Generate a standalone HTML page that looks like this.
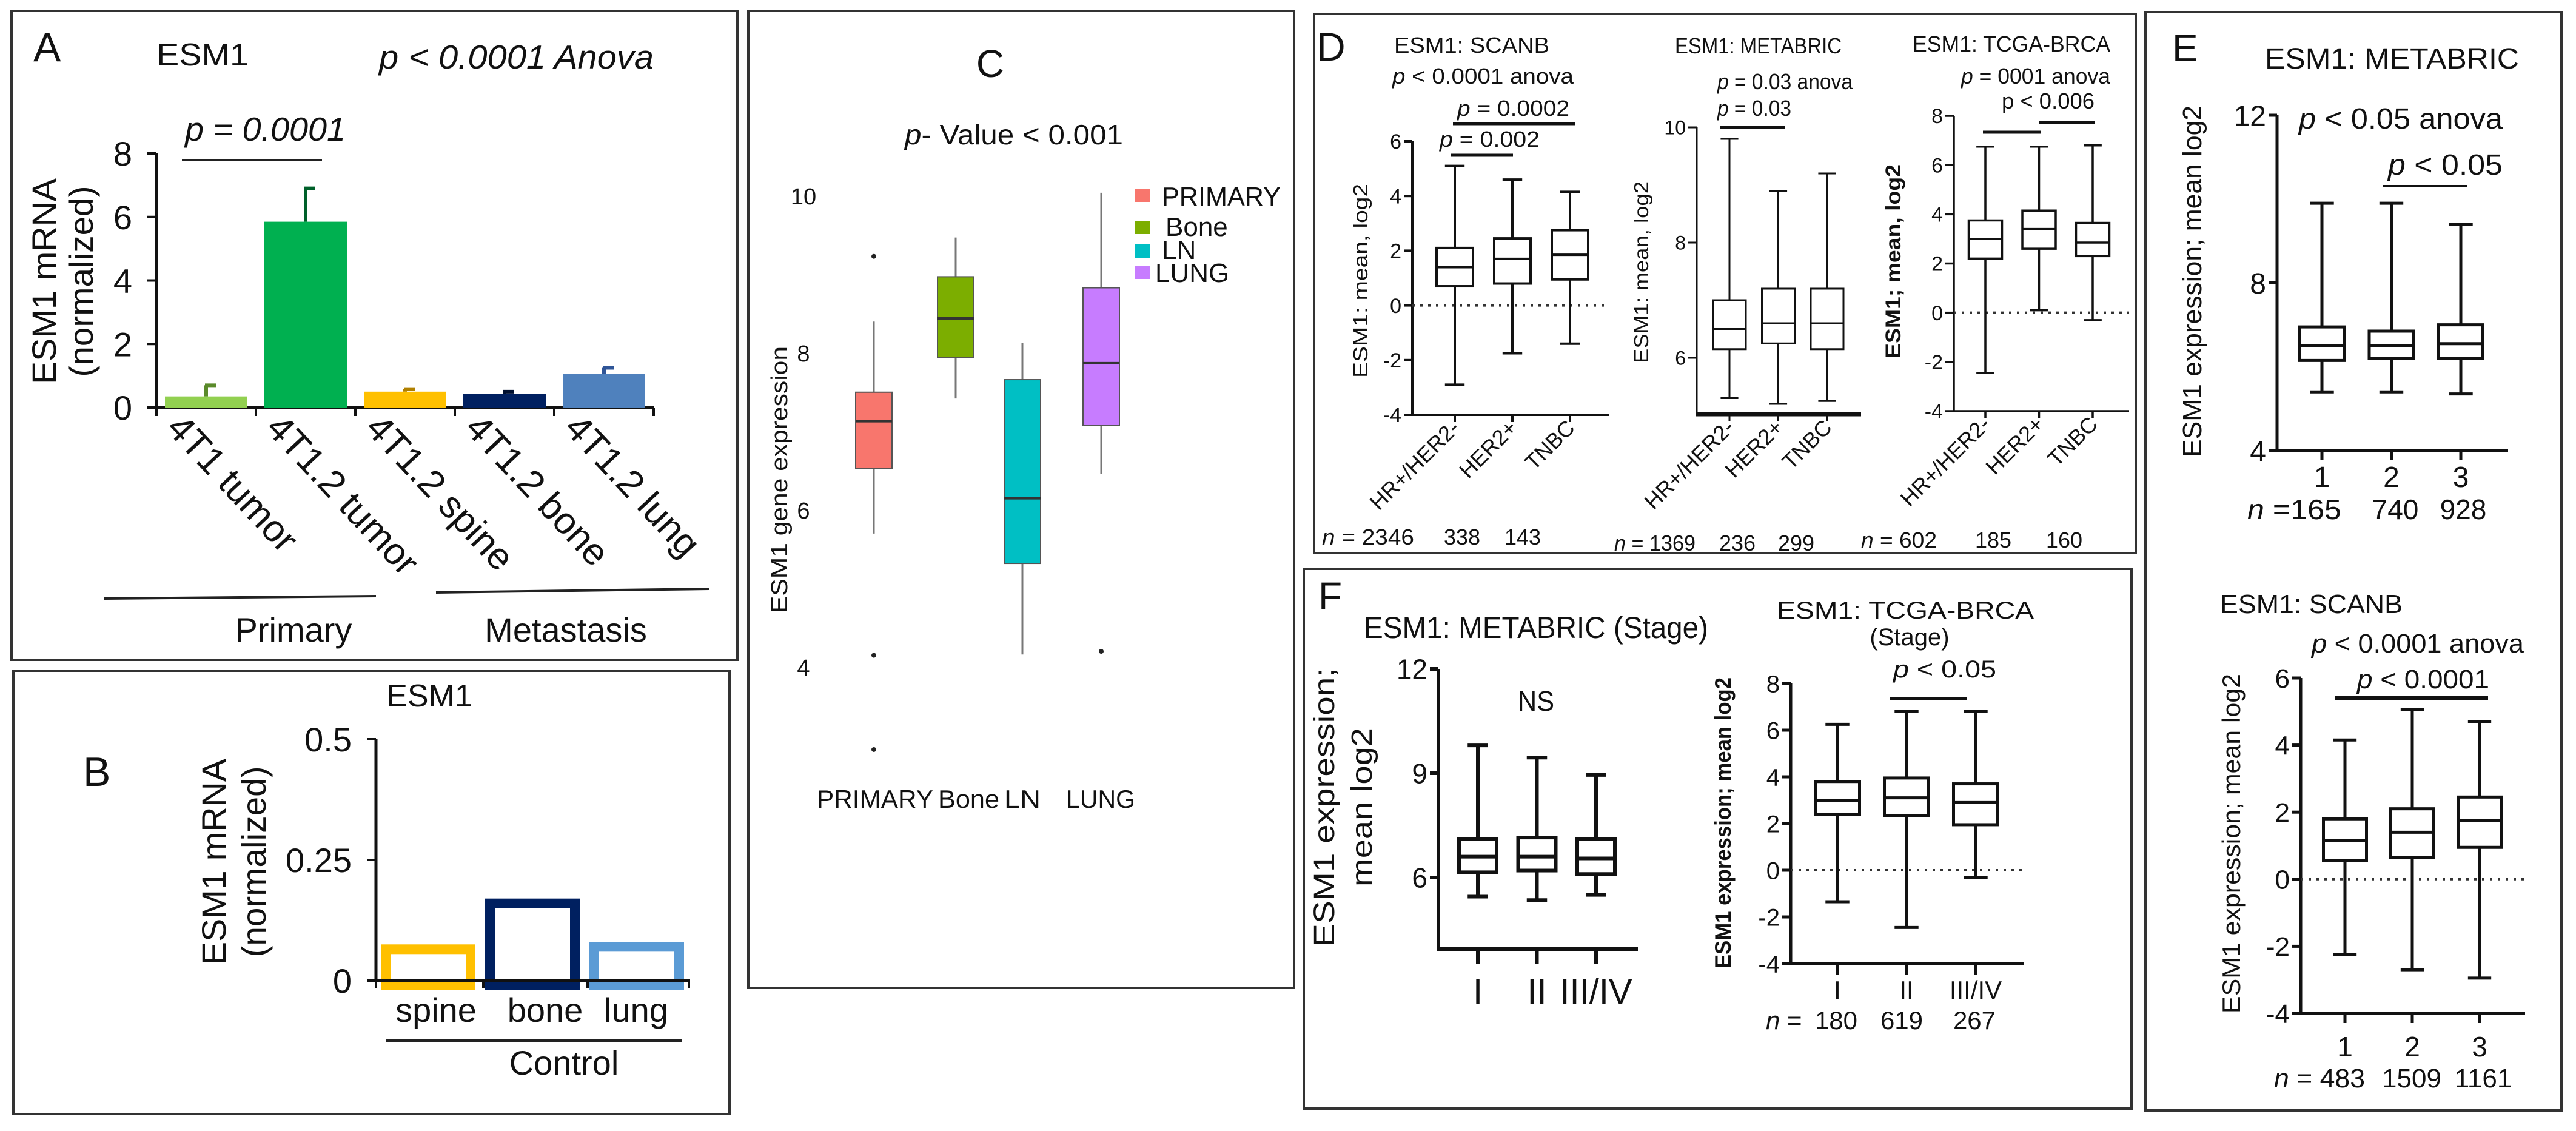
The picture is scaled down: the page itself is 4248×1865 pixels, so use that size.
<!DOCTYPE html>
<html><head><meta charset="utf-8"><style>
html,body{margin:0;padding:0;background:#fff;}
svg{display:block;font-family:"Liberation Sans",Arial,sans-serif;}
text{fill:#111;}
</style></head><body>
<svg id="fig" xmlns="http://www.w3.org/2000/svg" width="4248" height="1865" viewBox="0 0 4248 1865">
<rect x="0" y="0" width="4248" height="1865" fill="#fff"/>
<g fill="none" stroke="#333" stroke-width="4">
<rect x="19" y="18" width="1197" height="1070"/>
<rect x="22" y="1106" width="1181" height="731"/>
<rect x="1234" y="18" width="900" height="1611"/>
<rect x="2167" y="23" width="1355" height="889"/>
<rect x="2150" y="938" width="1365" height="890"/>
<rect x="3538" y="20" width="686" height="1811"/>
</g>

<g>
<text x="55" y="101" font-size="68">A</text>
<text x="258" y="108" font-size="52" textLength="152" lengthAdjust="spacingAndGlyphs">ESM1</text>
<text x="625" y="113" font-size="55" font-style="italic" textLength="453" lengthAdjust="spacingAndGlyphs">p &lt; 0.0001 Anova</text>
<text x="305" y="232" font-size="55" font-style="italic" textLength="265" lengthAdjust="spacingAndGlyphs">p = 0.0001</text>
<text transform="translate(92,464) rotate(-90)" text-anchor="middle" font-size="56" textLength="340" lengthAdjust="spacingAndGlyphs">ESM1 mRNA</text>
<text transform="translate(153,464) rotate(-90)" text-anchor="middle" font-size="56" textLength="315" lengthAdjust="spacingAndGlyphs">(normalized)</text>
<text x="484" y="1058" font-size="56" text-anchor="middle">Primary</text>
<text x="933" y="1058" font-size="56" text-anchor="middle">Metastasis</text>
</g>
<line x1="172" y1="987" x2="620" y2="983" stroke="#222" stroke-width="4"/>
<line x1="719" y1="977" x2="1169" y2="971" stroke="#222" stroke-width="4"/>
<line x1="300" y1="264" x2="531" y2="264" stroke="#222" stroke-width="4"/>
<g id="chartA"></g>

<g>
<text x="137" y="1296" font-size="68">B</text>
<text x="708" y="1165" font-size="52" text-anchor="middle">ESM1</text>
<text transform="translate(372,1421) rotate(-90)" text-anchor="middle" font-size="56" textLength="340" lengthAdjust="spacingAndGlyphs">ESM1 mRNA</text>
<text transform="translate(438,1421) rotate(-90)" text-anchor="middle" font-size="56" textLength="315" lengthAdjust="spacingAndGlyphs">(normalized)</text>
<text x="930" y="1772" font-size="56" text-anchor="middle">Control</text>
</g>
<line x1="637" y1="1716" x2="1125" y2="1716" stroke="#222" stroke-width="4"/>
<g id="chartB"></g>

<g>
<text x="1633" y="127" font-size="64" text-anchor="middle">C</text>
<text x="1492" y="238" font-size="46" textLength="360" lengthAdjust="spacingAndGlyphs"><tspan font-style="italic">p</tspan>- Value &lt;  0.001</text>
<text transform="translate(1298,791) rotate(-90)" text-anchor="middle" font-size="38" textLength="440" lengthAdjust="spacingAndGlyphs">ESM1 gene expression</text>
<text x="1347" y="1332" font-size="42" textLength="192" lengthAdjust="spacingAndGlyphs">PRIMARY</text>
<text x="1547" y="1332" font-size="42" textLength="101" lengthAdjust="spacingAndGlyphs">Bone</text>
<text x="1656" y="1332" font-size="42" textLength="60" lengthAdjust="spacingAndGlyphs">LN</text>
<text x="1758" y="1332" font-size="42" textLength="114" lengthAdjust="spacingAndGlyphs">LUNG</text>
</g>
<g>
<rect x="1872" y="311" width="24" height="22" fill="#f8766d"/><text x="1916" y="339" font-size="44" textLength="196" lengthAdjust="spacingAndGlyphs">PRIMARY</text>
<rect x="1872" y="364" width="24" height="22" fill="#7cae00"/><text x="1922" y="389" font-size="44">Bone</text>
<rect x="1872" y="403" width="24" height="22" fill="#00bfc4"/><text x="1916" y="427" font-size="44">LN</text>
<rect x="1872" y="438" width="24" height="22" fill="#c77cff"/><text x="1905" y="465" font-size="44">LUNG</text>
</g>
<g id="chartC"></g>

<g font-size="36">
<text x="2171" y="100" font-size="66">D</text>
<text x="2299" y="87" textLength="256" lengthAdjust="spacingAndGlyphs">ESM1: SCANB</text>
<text x="2296" y="138" textLength="299" lengthAdjust="spacingAndGlyphs"><tspan font-style="italic">p</tspan> &lt; 0.0001 anova</text>
<text x="2403" y="191" textLength="185" lengthAdjust="spacingAndGlyphs"><tspan font-style="italic">p</tspan> = 0.0002</text>
<text x="2374" y="242" textLength="165" lengthAdjust="spacingAndGlyphs"><tspan font-style="italic">p</tspan> = 0.002</text>
<text transform="translate(2255,463) rotate(-90)" text-anchor="middle" font-size="33" textLength="320" lengthAdjust="spacingAndGlyphs">ESM1: mean, log2</text>
<text x="2180" y="898" textLength="152" lengthAdjust="spacingAndGlyphs"><tspan font-style="italic">n</tspan> = 2346</text>
<text x="2411" y="898" text-anchor="middle">338</text>
<text x="2511" y="898" text-anchor="middle">143</text>
<text x="2762" y="88" textLength="275" lengthAdjust="spacingAndGlyphs">ESM1: METABRIC</text>
<text x="2832" y="147" textLength="223" lengthAdjust="spacingAndGlyphs"><tspan font-style="italic">p</tspan> = 0.03 anova</text>
<text x="2832" y="191" textLength="122" lengthAdjust="spacingAndGlyphs"><tspan font-style="italic">p</tspan> = 0.03</text>
<text transform="translate(2718,449) rotate(-90)" text-anchor="middle" font-size="33" textLength="300" lengthAdjust="spacingAndGlyphs">ESM1: mean, log2</text>
<text x="2662" y="908" textLength="134" lengthAdjust="spacingAndGlyphs"><tspan font-style="italic">n</tspan> = 1369</text>
<text x="2865" y="908" text-anchor="middle">236</text>
<text x="2962" y="908" text-anchor="middle">299</text>
<text x="3154" y="85" textLength="326" lengthAdjust="spacingAndGlyphs">ESM1: TCGA-BRCA</text>
<text x="3234" y="138" textLength="246" lengthAdjust="spacingAndGlyphs"><tspan font-style="italic">p</tspan> = 0001 anova</text>
<text x="3301" y="179" textLength="153" lengthAdjust="spacingAndGlyphs">p &lt; 0.006</text>
<text transform="translate(3134,431) rotate(-90)" text-anchor="middle" font-size="35" font-weight="bold" textLength="320" lengthAdjust="spacingAndGlyphs">ESM1; mean, log2</text>
<text x="3069" y="903" textLength="125" lengthAdjust="spacingAndGlyphs"><tspan font-style="italic">n</tspan> = 602</text>
<text x="3287" y="903" text-anchor="middle">185</text>
<text x="3404" y="903" text-anchor="middle">160</text>
</g>
<g stroke="#111" stroke-width="5">
<line x1="2396" y1="204" x2="2597" y2="204"/>
<line x1="2393" y1="256" x2="2495" y2="256"/>
<line x1="2837" y1="210" x2="2944" y2="210"/>
<line x1="3270" y1="218" x2="3365" y2="218"/>
<line x1="3362" y1="202" x2="3454" y2="202"/>
</g>
<g id="chartD1"></g>
<g id="chartD2"></g>
<g id="chartD3"></g>

<g>
<text x="2174" y="1005" font-size="64">F</text>
<text x="2249" y="1052" font-size="50" textLength="568" lengthAdjust="spacingAndGlyphs">ESM1: METABRIC (Stage)</text>
<text x="2533" y="1172" font-size="46" text-anchor="middle" textLength="60" lengthAdjust="spacingAndGlyphs">NS</text>
<text transform="translate(2200,1331) rotate(-90)" text-anchor="middle" font-size="48" textLength="460" lengthAdjust="spacingAndGlyphs">ESM1 expression;</text>
<text transform="translate(2262,1331) rotate(-90)" text-anchor="middle" font-size="48" textLength="262" lengthAdjust="spacingAndGlyphs">mean log2</text>
<text x="2930" y="1020" font-size="40" textLength="424" lengthAdjust="spacingAndGlyphs">ESM1: TCGA-BRCA</text>
<text x="3149" y="1064" font-size="40" text-anchor="middle">(Stage)</text>
<text x="3122" y="1117" font-size="40" textLength="170" lengthAdjust="spacingAndGlyphs"><tspan font-style="italic">p</tspan> &lt; 0.05</text>
<text transform="translate(2854,1357) rotate(-90)" text-anchor="middle" font-size="37" font-weight="bold" textLength="480" lengthAdjust="spacingAndGlyphs">ESM1 expression; mean log2</text>
<text x="2912" y="1697" font-size="42"><tspan font-style="italic">n</tspan> =</text>
<text x="3028" y="1697" font-size="42" text-anchor="middle">180</text>
<text x="3136" y="1697" font-size="42" text-anchor="middle">619</text>
<text x="3256" y="1697" font-size="42" text-anchor="middle">267</text>
</g>
<line x1="3116" y1="1152" x2="3243" y2="1152" stroke="#111" stroke-width="4"/>
<g id="chartF1"></g>
<g id="chartF2"></g>

<g>
<text x="3582" y="101" font-size="64">E</text>
<text x="3735" y="113" font-size="48" textLength="419" lengthAdjust="spacingAndGlyphs">ESM1: METABRIC</text>
<text x="3791" y="212" font-size="48" textLength="336" lengthAdjust="spacingAndGlyphs"><tspan font-style="italic">p</tspan> &lt; 0.05 anova</text>
<text x="3938" y="288" font-size="48" textLength="189" lengthAdjust="spacingAndGlyphs"><tspan font-style="italic">p</tspan> &lt; 0.05</text>
<text transform="translate(3630,464) rotate(-90)" text-anchor="middle" font-size="44" textLength="580" lengthAdjust="spacingAndGlyphs">ESM1 expression; mean log2</text>
<text x="3706" y="856" font-size="46" textLength="155" lengthAdjust="spacingAndGlyphs"><tspan font-style="italic">n</tspan> =165</text>
<text x="3950" y="856" font-size="46" text-anchor="middle">740</text>
<text x="4062" y="856" font-size="46" text-anchor="middle">928</text>
<text x="3661" y="1011" font-size="44" textLength="301" lengthAdjust="spacingAndGlyphs">ESM1: SCANB</text>
<text x="3812" y="1076" font-size="44" textLength="350" lengthAdjust="spacingAndGlyphs"><tspan font-style="italic">p</tspan> &lt; 0.0001 anova</text>
<text x="3887" y="1135" font-size="44" textLength="218" lengthAdjust="spacingAndGlyphs"><tspan font-style="italic">p</tspan> &lt; 0.0001</text>
<text transform="translate(3694,1391) rotate(-90)" text-anchor="middle" font-size="42" textLength="560" lengthAdjust="spacingAndGlyphs">ESM1 expression; mean log2</text>
<text x="3750" y="1793" font-size="44" textLength="150" lengthAdjust="spacingAndGlyphs"><tspan font-style="italic">n</tspan> = 483</text>
<text x="3977" y="1793" font-size="44" text-anchor="middle">1509</text>
<text x="4095" y="1793" font-size="44" text-anchor="middle">1161</text>
</g>
<g stroke="#111" stroke-width="4">
<line x1="3930" y1="307" x2="4068" y2="307"/>
<line x1="3850" y1="1151" x2="4103" y2="1151" stroke-width="6"/>
</g>
<g id="chartE1"></g>
<g id="chartE2"></g>
</svg>

<script>
const aCategories = ['4T1 tumor','4T1.2 tumor','4T1.2 spine','4T1.2 bone','4T1.2 lung'];
const aValues = [0.35, 5.85, 0.5, 0.42, 1.05];
const aErrors = [0.35, 1.05, 0.08, 0.08, 0.2];
const aTicks = [0, 2, 4, 6, 8];
const bCategories = ['spine','bone','lung'];
const bValues = [0.075, 0.17, 0.08];
const bTicks = [0, 0.25, 0.5];
const bTickLabels = ['0','0.25','0.5'];
const cCategories = ['PRIMARY','Bone','LN','LUNG'];
const cStats = [[5.7,6.53,7.13,7.5,8.4],[7.42,7.94,8.44,8.97,9.47],[4.16,5.32,6.15,7.66,8.13],[6.46,7.08,7.87,8.83,10.04]];
const cOutliers = [[9.23,4.15,2.95],[],[],[4.2]];
const cTicks = [4, 6, 8, 10];
const d1Categories = ['HR+/HER2-','HER2+','TNBC'];
const d1Stats = [[-2.9,0.7,1.4,2.1,5.1],[-1.75,0.8,1.7,2.45,4.6],[-1.4,0.95,1.85,2.75,4.15]];
const d1Ticks = [-4,-2,0,2,4,6];
const d2Categories = ['HR+/HER2-','HER2+','TNBC'];
const d2Stats = [[5.3,6.15,6.5,7.0,9.8],[5.2,6.25,6.6,7.2,8.9],[5.25,6.15,6.6,7.2,9.2]];
const d2Ticks = [6,8,10];
const d3Categories = ['HR+/HER2-','HER2+','TNBC'];
const d3Stats = [[-2.45,2.2,3.0,3.75,6.75],[0.1,2.6,3.4,4.15,6.75],[-0.3,2.3,2.85,3.65,6.8]];
const d3Ticks = [-4,-2,0,2,4,6,8];
const f1Categories = ['I','II','III/IV'];
const f1Stats = [[5.45,6.15,6.6,7.1,9.8],[5.35,6.2,6.6,7.15,9.45],[5.5,6.1,6.55,7.1,8.95]];
const f1Ticks = [6,9,12];
const f2Categories = ['I','II','III/IV'];
const f2Stats = [[-1.35,2.4,3.0,3.8,6.25],[-2.45,2.35,3.1,3.95,6.8],[-0.3,1.95,2.9,3.7,6.8]];
const f2Ticks = [-4,-2,0,2,4,6,8];
const e1Categories = ['1','2','3'];
const e1Stats = [[5.4,6.15,6.5,6.95,9.9],[5.4,6.2,6.5,6.85,9.9],[5.35,6.2,6.55,7.0,9.4]];
const e1Ticks = [4,8,12];
const e2Categories = ['1','2','3'];
const e2Stats = [[-2.25,0.55,1.15,1.8,4.15],[-2.7,0.65,1.4,2.1,5.05],[-2.95,0.95,1.75,2.45,4.7]];
const e2Ticks = [-4,-2,0,2,4,6];

const NS = 'http://www.w3.org/2000/svg';
function mk(tag, parent, attrs) {
  const e = document.createElementNS(NS, tag);
  for (const k in attrs) e.setAttribute(k, attrs[k]);
  parent.appendChild(e);
  return e;
}
function linear(d0, d1, r0, r1) { return v => r0 + (v - d0) * (r1 - r0) / (d1 - d0); }
function band(x0, step) { return i => x0 + i * step; }

(function () {
  const g = document.getElementById('chartA');
  const y = linear(0, 8, 672, 253);
  const x = band(340, 164);
  const colors = ['#92d050','#00b050','#ffc000','#002060','#4f81bd'];
  const errColors = ['#5a8a2a','#00602a','#b08000','#001030','#2f5597'];
  const ax = mk('line', g, {x1:258, y1:y(8), x2:258, y2:y(0)+2, stroke:'#111','stroke-width':5});
  
  
  const bx = mk('line', g, {x1:256, y1:y(0), x2:1078, y2:y(0), stroke:'#111','stroke-width':5});
  
  
  aTicks.forEach(t => {
    mk('line', g, {x1:243, y1:y(t), x2:258, y2:y(t), stroke:'#111','stroke-width':4});
    const tl = mk('text', g, {x:218, y:y(t)+20, 'font-size':56, 'text-anchor':'end'});
    tl.textContent = t;
    
    
  });
  for (let i = 0; i <= aCategories.length; i++) {
    mk('line', g, {x1:258+i*164, y1:y(0), x2:258+i*164, y2:y(0)+14, stroke:'#111','stroke-width':4});
  }
  aCategories.forEach((c, i) => {
    const cx = x(i);
    const top = y(aValues[i] + aErrors[i]);
    const el = mk('line', g, {x1:cx, y1:y(aValues[i]), x2:cx, y2:top, stroke:errColors[i], 'stroke-width':6});
    
    
    mk('line', g, {x1:cx-2, y1:top, x2:cx+16, y2:top, stroke:errColors[i], 'stroke-width':6});
    const r = mk('rect', g, {x:cx-68, y:y(aValues[i]), width:136, height:y(0)-y(aValues[i]), fill:colors[i]});
    
    
    const lbl = mk('text', g, {x:0, y:0, 'font-size':62, transform:`translate(${cx-68},${y(0)+36}) rotate(47)`});
    lbl.textContent = c;
    
    
  });
})();

(function () {
  const g = document.getElementById('chartB');
  const y = linear(0, 0.5, 1617, 1219);
  const x = band(706, 172);
  const colors = ['#ffc000','#002060','#5b9bd5'];
  const sw = 16;
  bCategories.forEach((c, i) => {
    const cx = x(i);
    const r = mk('rect', g, {x:cx-78+sw/2, y:y(bValues[i])+sw/2, width:156-sw, height:y(0)-y(bValues[i]), fill:'none', stroke:colors[i], 'stroke-width':sw});
    
    
    const t = mk('text', g, {x:cx+(i==0?13:i==1?21:-1), y:1685, 'font-size':56, 'text-anchor':'middle'});
    t.textContent = c;
    
    
  });
  const ax = mk('line', g, {x1:620, y1:y(0.5), x2:620, y2:y(0), stroke:'#111','stroke-width':5});
  
  
  const bx = mk('line', g, {x1:618, y1:y(0), x2:1138, y2:y(0), stroke:'#111','stroke-width':5});
  
  
  [620, 797, 969, 1136].forEach(px => mk('line', g, {x1:px, y1:y(0), x2:px, y2:y(0)+12, stroke:'#111','stroke-width':4}));
  bTicks.forEach((t, i) => {
    mk('line', g, {x1:606, y1:y(t), x2:620, y2:y(t), stroke:'#111','stroke-width':4});
    const tl = mk('text', g, {x:580, y:y(t)+20, 'font-size':56, 'text-anchor':'end'});
    tl.textContent = bTickLabels[i];
    
    
  });
})();

(function () {
  const g = document.getElementById('chartC');
  const y = linear(4, 10, 1100, 323);
  const xs = [1441, 1576, 1686, 1816];
  const colors = ['#f8766d','#7cae00','#00bfc4','#c77cff'];
  cTicks.forEach(t => {
    const tl = mk('text', g, {x:1325, y:y(t)+14, 'font-size':38, 'text-anchor':'middle', fill:'#333'});
    tl.textContent = t;
    
    
  });
  cStats.forEach((s, i) => {
    const cx = xs[i];
    const w = mk('line', g, {x1:cx, y1:y(s[0]), x2:cx, y2:y(s[4]), stroke:'#777', 'stroke-width':3});
    
    
    const b = mk('rect', g, {x:cx-30, y:y(s[3]), width:60, height:y(s[1])-y(s[3]), fill:colors[i], stroke:'#555', 'stroke-width':2});
    
    
    const m = mk('line', g, {x1:cx-30, y1:y(s[2]), x2:cx+30, y2:y(s[2]), stroke:'#333', 'stroke-width':4});
    
    
    cOutliers[i].forEach(o => {
      const d = mk('circle', g, {cx:cx, cy:y(o), r:4, fill:'#222'});
      
      
    });
  });
})();

function boxChart(id, stats, cats, ticks, cfg) {
  const g = document.getElementById(id);
  const y = linear(cfg.d0, cfg.d1, cfg.r0, cfg.r1);
  const x = band(cfg.cx0, cfg.step);
  const sw = cfg.sw;
  const bottom = cfg.bottom !== undefined ? cfg.bottom : cfg.r0;
  const top = y(ticks[ticks.length - 1]);
  const ax = mk('line', g, {x1:cfg.ax, y1:top, x2:cfg.ax, y2:bottom, stroke:'#111', 'stroke-width':sw});
  
  
  const bx = mk('line', g, {x1:cfg.ax - sw/2, y1:bottom, x2:cfg.xEnd, y2:bottom, stroke:'#111', 'stroke-width':cfg.xsw || sw});
  
  
  ticks.forEach(t => {
    mk('line', g, {x1:cfg.ax - 14, y1:y(t), x2:cfg.ax, y2:y(t), stroke:'#111', 'stroke-width':sw});
    const tl = mk('text', g, {x:cfg.ax - 18, y:y(t) + cfg.tfs * 0.36, 'font-size':cfg.tfs, 'text-anchor':'end'});
    tl.textContent = t;
    
    
  });
  if (cfg.zero) {
    const z = mk('line', g, {x1:cfg.ax, y1:y(0), x2:cfg.xEnd, y2:y(0), stroke:'#333', 'stroke-width':4, 'stroke-dasharray':'4 9'});
    
    
  }
  const hw = cfg.w / 2, cap = cfg.w * 0.27;
  stats.forEach((s, i) => {
    const cx = x(i);
    mk('line', g, {x1:cx, y1:bottom, x2:cx, y2:bottom + cfg.tickLen, stroke:'#111', 'stroke-width':sw});
    const wk = mk('line', g, {x1:cx, y1:y(s[0]), x2:cx, y2:y(s[4]), stroke:'#111', 'stroke-width':sw});
    
    
    mk('line', g, {x1:cx-cap, y1:y(s[0]), x2:cx+cap, y2:y(s[0]), stroke:'#111', 'stroke-width':sw});
    mk('line', g, {x1:cx-cap, y1:y(s[4]), x2:cx+cap, y2:y(s[4]), stroke:'#111', 'stroke-width':sw});
    const b = mk('rect', g, {x:cx-hw, y:y(s[3]), width:cfg.w, height:y(s[1])-y(s[3]), fill:'#fff', stroke:'#111', 'stroke-width':sw});
    
    
    const m = mk('line', g, {x1:cx-hw, y1:y(s[2]), x2:cx+hw, y2:y(s[2]), stroke:'#111', 'stroke-width':sw});
    
    
    let lbl;
    if (cfg.rot) {
      lbl = mk('text', g, {x:0, y:0, 'font-size':cfg.lfs, 'text-anchor':'end', transform:`translate(${cx+10},${bottom+cfg.tickLen+12}) rotate(-45)`});
    } else {
      lbl = mk('text', g, {x:cx, y:cfg.labelY, 'font-size':cfg.lfs, 'text-anchor':'middle'});
    }
    lbl.textContent = cats[i];
    
    
  });
}

boxChart('chartD1', d1Stats, d1Categories, d1Ticks, {d0:-4,d1:6,r0:684,r1:233,ax:2329,xEnd:2653,cx0:2399,step:95,w:60,sw:4,tfs:34,zero:true,tickLen:12,rot:true,lfs:36});
boxChart('chartD2', d2Stats, d2Categories, d2Ticks, {d0:6,d1:10,r0:590,r1:210,bottom:683,ax:2798,xEnd:3069,cx0:2852,step:80.5,w:54,sw:3,xsw:7,tfs:32,zero:false,tickLen:12,rot:true,lfs:36});
boxChart('chartD3', d3Stats, d3Categories, d3Ticks, {d0:-4,d1:8,r0:678,r1:191,ax:3222,xEnd:3511,cx0:3274,step:88.5,w:55,sw:3.5,tfs:34,zero:true,tickLen:12,rot:true,lfs:36});
boxChart('chartF1', f1Stats, f1Categories, f1Ticks, {d0:6,d1:12,r0:1447,r1:1103,bottom:1565,ax:2372,xEnd:2701,cx0:2437,step:97.5,w:62,sw:6,tfs:46,zero:false,tickLen:24,labelY:1655,lfs:58});
boxChart('chartF2', f2Stats, f2Categories, f2Ticks, {d0:-4,d1:8,r0:1589,r1:1127,ax:2953,xEnd:3337,cx0:3030,step:114,w:73,sw:5,tfs:40,zero:true,tickLen:18,labelY:1647,lfs:42});
boxChart('chartE1', e1Stats, e1Categories, e1Ticks, {d0:4,d1:12,r0:743,r1:190,ax:3755,xEnd:4136,cx0:3829,step:114.5,w:73,sw:5,tfs:48,zero:false,tickLen:16,labelY:803,lfs:48});
boxChart('chartE2', e2Stats, e2Categories, e2Ticks, {d0:-4,d1:6,r0:1671,r1:1118,ax:3794,xEnd:4164,cx0:3867,step:111,w:71,sw:5,tfs:44,zero:true,tickLen:16,labelY:1742,lfs:46});
</script>
</body></html>
